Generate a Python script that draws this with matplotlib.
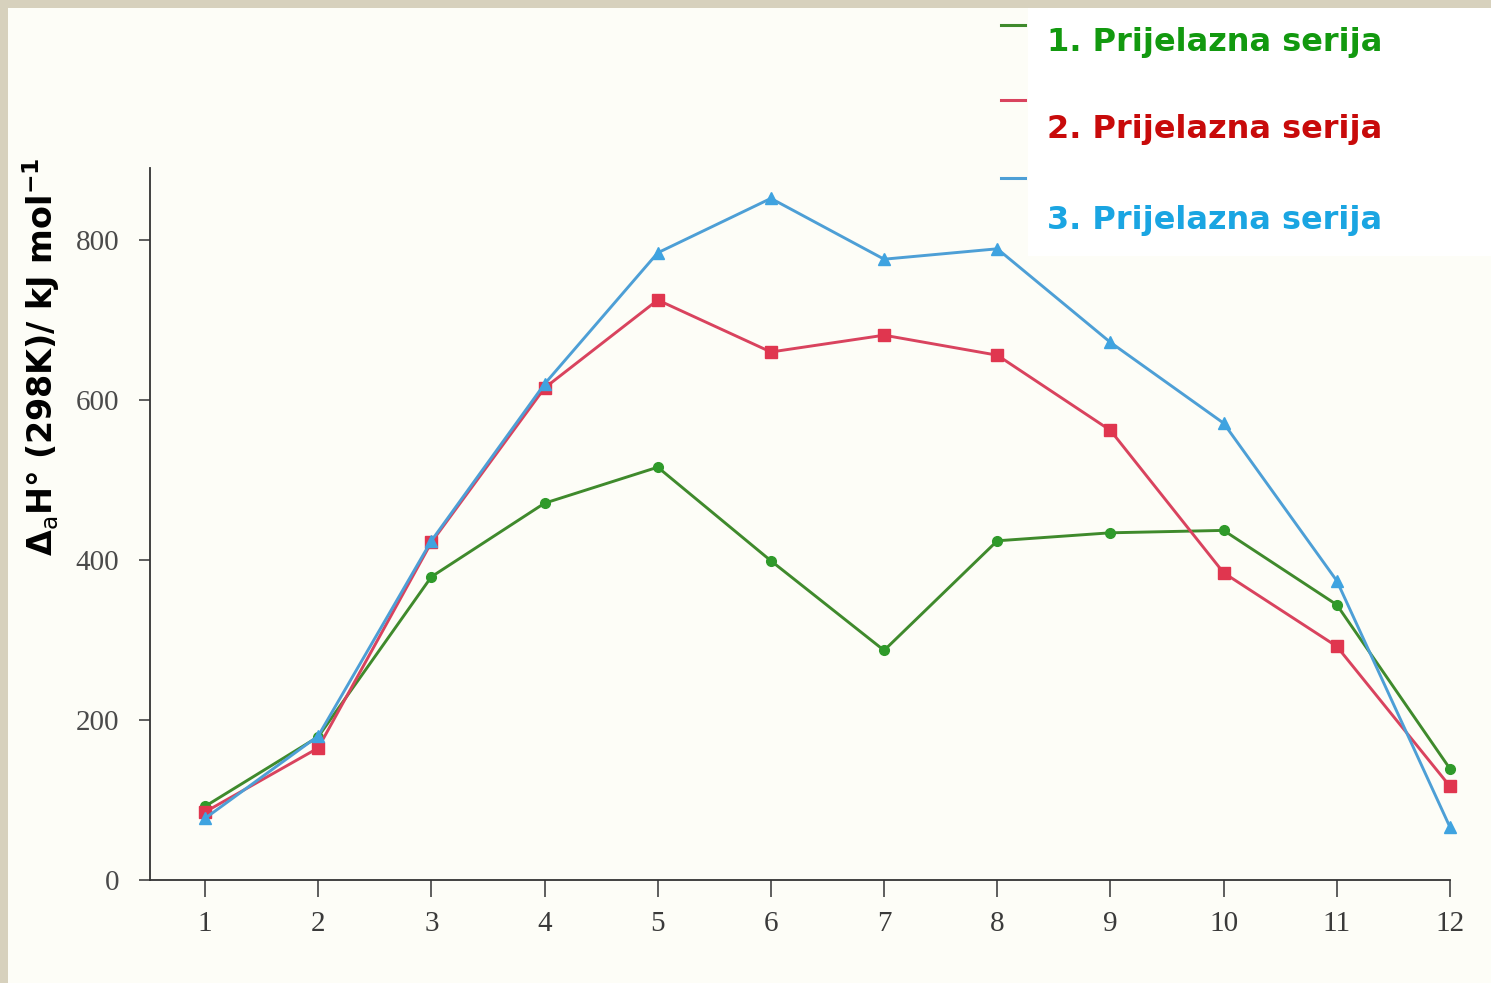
import matplotlib
matplotlib.use("Agg")
import matplotlib.pyplot as plt
from matplotlib.lines import Line2D
from matplotlib.patches import Rectangle

# group number across the transition series
groups = [1, 2, 3, 4, 5, 6, 7, 8, 9, 10, 11, 12]

# atomization enthalpy, kJ/mol
series_1 = [92, 179, 379, 471, 516, 399, 287, 424, 434, 437, 344, 139]
series_2 = [85, 165, 422, 615, 725, 660, 681, 656, 562, 384, 292, 117]
series_3 = [77, 180, 424, 620, 784, 852, 776, 789, 672, 571, 374, 66]

labels = ["1. Prijelazna serija", "2. Prijelazna serija", "3. Prijelazna serija"]
line_colors = ["#3f8a2c", "#d9435e", "#4d9fd6"]
marker_colors = ["#2f9a2a", "#e0364f", "#3fa3e0"]
text_colors = ["#12990f", "#c80a0a", "#1aa5e2"]
markers = ["o", "s", "^"]

yticks = [0, 200, 400, 600, 800]

W, H = 1491, 983
fig = plt.figure(figsize=(W / 100, H / 100), dpi=100)
fig.patch.set_facecolor("#d7d1bd")

# off-white slide area and white legend panel (drawn below the axes)
fig.patches.append(Rectangle((8 / W, 0), 1, 1 - 8 / H, transform=fig.transFigure,
                             facecolor="#fdfdf7", edgecolor="none", zorder=-2))
fig.patches.append(Rectangle((1028 / W, 0.74), 1, 1 - 8 / H - 0.74, transform=fig.transFigure,
                             facecolor="#ffffff", edgecolor="none", zorder=-1))

ax = fig.add_axes([150 / W, 1 - 880 / H, (1450 - 150) / W, (880 - 168) / H])
ax.set_facecolor("none")
ax.set_zorder(1)

for ys, lc, mc, m in zip([series_1, series_2, series_3], line_colors, marker_colors, markers):
    ax.plot(groups, ys, color=lc, lw=2.1, marker=m, markersize=8 if m != "o" else 7,
            markerfacecolor=mc, markeredgecolor=mc, clip_on=False, zorder=3)

ax.set_xlim(0.514, 12)
ax.set_ylim(0, 890)
ax.set_xticks(groups)
ax.set_yticks(yticks)
for s in ["top", "right"]:
    ax.spines[s].set_visible(False)
for s in ["left", "bottom"]:
    ax.spines[s].set_color("#333333")
    ax.spines[s].set_linewidth(1.3)

ax.tick_params(axis="y", length=8, width=1.2, color="#444444", pad=14,
               labelsize=21, labelcolor="#4a4a4a")
ax.tick_params(axis="x", length=12, width=1.2, color="#444444", pad=10,
               labelsize=21, labelcolor="#3a3a3a")
for t in ax.get_xticklabels() + ax.get_yticklabels():
    t.set_fontfamily("Liberation Serif")

ax.set_ylabel(r"$\mathbf{\Delta_{\mathsf{a}}}$H° (298K)/ kJ mol$^{\mathbf{-1}}$",
              fontsize=24, fontweight="bold", color="black")
ax.yaxis.set_label_coords(-88 / 1300, 0.735)

# custom legend: short line stubs above colored bold text
stub_y = [25, 100, 178]
text_y = [42, 130, 220]
for lc, tc, lab, sy, ty in zip(line_colors, text_colors, labels, stub_y, text_y):
    fig.add_artist(Line2D([1001 / W, 1025 / W], [1 - sy / H, 1 - sy / H],
                          transform=fig.transFigure, color=lc, lw=2.2))
    fig.text(1047 / W, 1 - ty / H, lab, color=tc, fontsize=23, fontweight="bold",
             ha="left", va="center", family="DejaVu Sans")

fig.savefig("out.png", dpi=100, facecolor=fig.get_facecolor())
